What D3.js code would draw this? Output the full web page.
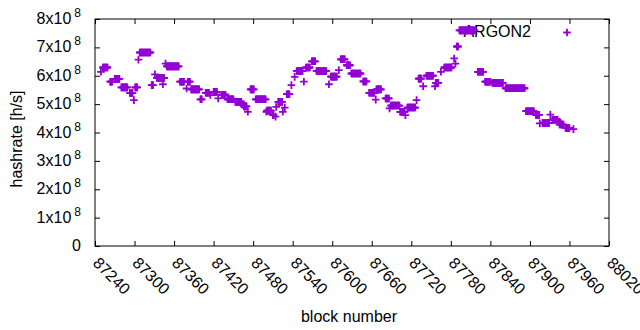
<!DOCTYPE html>
<html>
<head>
<meta charset="utf-8">
<script src="https://d3js.org/d3.v7.min.js"></script>
<style>
    body { margin: 0; background: white; }
    text { font-family: "Liberation Sans", Arial, sans-serif; }
</style>
</head>
<body>
<div id="chartContainer"></div>
<script>
// runs of blocks that share the same hashrate estimate (value in units of 1e8 h/s)
var runStart = [87249, 87252, 87263, 87270, 87280, 87293, 87299, 87301, 87306, 87308,
    87326, 87331, 87334, 87343, 87347, 87349, 87369, 87379, 87381, 87386,
    87400, 87408, 87415, 87420, 87427, 87432, 87441, 87453, 87463, 87466,
    87472, 87476, 87484, 87500, 87501, 87510, 87514, 87515, 87518, 87525,
    87528, 87531, 87538, 87543, 87546, 87557, 87560, 87569, 87576, 87595,
    87598, 87610, 87613, 87622, 87629, 87647, 87656, 87666, 87667, 87681,
    87687, 87689, 87703, 87711, 87714, 87728, 87731, 87738, 87743, 87756,
    87757, 87765, 87770, 87785, 87787, 87789, 87793, 87821, 87832, 87843,
    87863, 87894, 87909, 87915, 87919, 87931, 87934, 87944, 87945, 87954,
    87966];
var runEnd = [87249, 87259, 87266, 87277, 87289, 87297, 87299, 87304, 87306, 87324,
    87328, 87331, 87345, 87343, 87347, 87367, 87375, 87379, 87384, 87398,
    87402, 87413, 87415, 87425, 87427, 87438, 87450, 87462, 87465, 87470,
    87472, 87481, 87499, 87500, 87507, 87511, 87514, 87515, 87524, 87525,
    87528, 87535, 87538, 87543, 87555, 87557, 87566, 87574, 87591, 87595,
    87607, 87610, 87619, 87627, 87643, 87652, 87664, 87666, 87674, 87686,
    87687, 87702, 87710, 87711, 87726, 87728, 87735, 87738, 87753, 87756,
    87761, 87765, 87781, 87785, 87787, 87791, 87816, 87829, 87840, 87859,
    87892, 87906, 87914, 87915, 87929, 87931, 87942, 87944, 87951, 87960,
    87966];
var runRate = [6.14, 6.29, 5.79, 5.89, 5.59, 5.39, 5.14, 5.59, 6.57, 6.82,
    5.67, 6.05, 5.92, 5.70, 6.43, 6.33, 5.79, 5.55, 5.79, 5.52,
    5.17, 5.40, 5.32, 5.43, 5.20, 5.33, 5.17, 5.08, 4.99, 4.92,
    4.73, 5.52, 5.17, 4.73, 4.77, 4.61, 4.56, 4.90, 5.08, 4.73,
    4.88, 5.35, 5.67, 5.96, 6.17, 5.79, 6.29, 6.51, 6.17, 5.70,
    5.97, 6.20, 6.58, 6.37, 6.08, 5.80, 5.40, 5.16, 5.52, 5.20,
    4.85, 4.95, 4.73, 4.61, 4.88, 5.14, 5.90, 5.63, 6.00, 5.63,
    5.75, 6.14, 6.29, 6.61, 6.43, 7.03, 7.60, 6.14, 5.79, 5.75,
    5.56, 4.75, 4.62, 4.32, 4.33, 4.63, 4.45, 4.38, 4.28, 4.16,
    4.12];

var xTicks = [87240, 87300, 87360, 87420, 87480, 87540, 87600, 87660, 87720, 87780, 87840, 87900, 87960, 88020];
var yTicks = [0, 1e8, 2e8, 3e8, 4e8, 5e8, 6e8, 7e8, 8e8];

var width = 640, height = 330;
var plot = { left: 95, right: 609, top: 19, bottom: 246 };
var color = "#9400d3";
var fontSize = 16;

// one point per block
var data = [];
for (var i = 0; i < runStart.length; i++) {
    for (var b = runStart[i]; b <= runEnd[i]; b++) {
        data.push({ block: b, rate: runRate[i] * 1e8 });
    }
}

const svg = d3.select("#chartContainer")
    .append("svg")
    .attr("width", width)
    .attr("height", height);

const x = d3.scaleLinear()
    .domain([87240, 88020])
    .range([plot.left, plot.right]);

const y = d3.scaleLinear()
    .domain([0, 8e8])
    .range([plot.bottom, plot.top]);

// ticks on all four sides, pointing inward
function styleAxis(g) {
    g.select(".domain").remove();
    g.selectAll(".tick line").attr("stroke", "black");
    g.selectAll(".tick text").remove();
}
svg.append("g")
    .attr("transform", `translate(0, ${plot.bottom})`)
    .call(d3.axisBottom(x).tickValues(xTicks).tickSize(-5))
    .call(styleAxis);
svg.append("g")
    .attr("transform", `translate(0, ${plot.top})`)
    .call(d3.axisTop(x).tickValues(xTicks).tickSize(-5))
    .call(styleAxis);
svg.append("g")
    .attr("transform", `translate(${plot.left}, 0)`)
    .call(d3.axisLeft(y).tickValues(yTicks).tickSize(-5))
    .call(styleAxis);
svg.append("g")
    .attr("transform", `translate(${plot.right}, 0)`)
    .call(d3.axisRight(y).tickValues(yTicks).tickSize(-5))
    .call(styleAxis);

svg.append("rect")
    .attr("x", plot.left)
    .attr("y", plot.top)
    .attr("width", plot.right - plot.left)
    .attr("height", plot.bottom - plot.top)
    .attr("fill", "none")
    .attr("stroke", "black")
    .attr("stroke-width", 1);

// y tick labels like 8x10^8
yTicks.forEach(function (t) {
    let label = svg.append("text")
        .attr("x", 81)
        .attr("y", y(t) + 5)
        .attr("text-anchor", "end")
        .attr("font-size", fontSize);
    if (t === 0) {
        label.text("0");
    } else {
        label.append("tspan").text((t / 1e8) + "x10");
        label.append("tspan")
            .attr("dx", 3)
            .attr("dy", -7)
            .attr("font-size", 12)
            .text("8");
    }
});

// x tick labels, rotated
xTicks.forEach(function (t) {
    svg.append("text")
        .attr("transform", `translate(${x(t) - 3}, 264) rotate(45)`)
        .attr("font-size", fontSize)
        .text(t);
});

svg.append("text")
    .attr("transform", "translate(22, 139) rotate(-90)")
    .attr("text-anchor", "middle")
    .attr("font-size", fontSize)
    .text("hashrate [h/s]");

svg.append("text")
    .attr("x", 349)
    .attr("y", 322)
    .attr("text-anchor", "middle")
    .attr("font-size", fontSize)
    .text("block number");

const plus = "M-3.8,0H3.8M0,-3.8V3.8";

// key (drawn before the points, so the data sits on top of it)
svg.append("text")
    .attr("x", 531)
    .attr("y", 37)
    .attr("text-anchor", "end")
    .attr("font-size", fontSize)
    .text("ARGON2");
svg.append("path")
    .attr("d", plus)
    .attr("transform", "translate(567, 32.5)")
    .attr("fill", "none")
    .attr("stroke", color)
    .attr("stroke-width", 1.8);

svg.append("g")
    .selectAll("path")
    .data(data)
    .join("path")
    .attr("d", plus)
    .attr("transform", d => `translate(${x(d.block)}, ${y(d.rate)})`)
    .attr("fill", "none")
    .attr("stroke", color)
    .attr("stroke-width", 1.8);
</script>
</body>
</html>
